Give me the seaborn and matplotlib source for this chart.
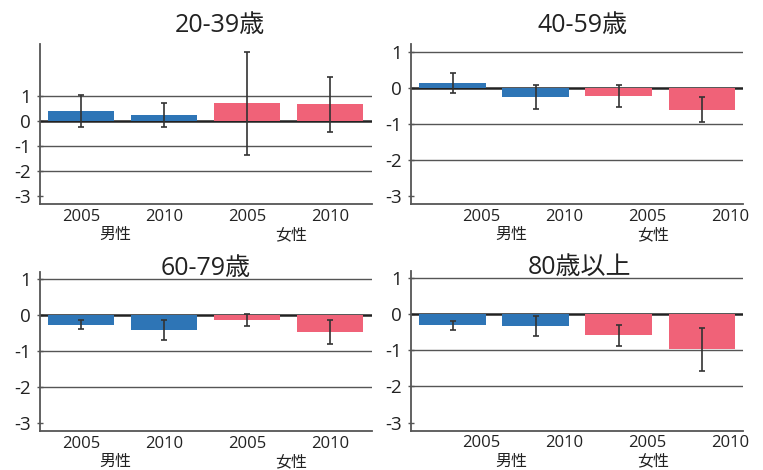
import numpy as np
import pandas as pd
import matplotlib
matplotlib.use("Agg")
import matplotlib.pyplot as plt
import matplotlib.transforms as mtransforms
import seaborn as sns

# Age groups (one panel each)
panels = ["20-39歳", "40-59歳", "60-79歳", "80歳以上"]
# Bars within a panel
sexes = ["男性", "男性", "女性", "女性"]
years = ["2005", "2010", "2005", "2010"]

# Bar heights and symmetric error half-widths per age group
means_20_39 = [0.39, 0.23, 0.70, 0.67]
errs_20_39 = [0.65, 0.49, 2.06, 1.10]
means_40_59 = [0.13, -0.25, -0.23, -0.61]
errs_40_59 = [0.28, 0.33, 0.31, 0.34]
means_60_79 = [-0.27, -0.42, -0.14, -0.47]
errs_60_79 = [0.125, 0.28, 0.157, 0.33]
means_80 = [-0.30, -0.32, -0.58, -0.97]
errs_80 = [0.125, 0.28, 0.285, 0.60]

yticks = [-3, -2, -1, 0, 1]

sns.set_theme(style="white")
plt.rcParams["font.family"] = ["Open Sans", "Noto Sans CJK JP", "DejaVu Sans"]
plt.rcParams["axes.unicode_minus"] = False

palette = {"男性": "#2e75b6", "女性": "#f06278"}

W, H = 763, 470
fig = plt.figure(figsize=(W / 100, H / 100), dpi=100)

def frac_box(x0, x1, y_top, y_bot):
    return [x0 / W, 1 - y_bot / H, (x1 - x0) / W, (y_bot - y_top) / H]

layout = [
    dict(box=frac_box(39.7, 371.7, 44.3, 204.0), ylim=(-3.32, 3.06), right=False,
         title_x=0.543, title_pad=8.9, groups=(0.227, 0.756)),
    dict(box=frac_box(411.0, 743.3, 44.3, 204.0), ylim=(-3.22, 1.2), right=True,
         title_x=0.517, title_pad=8.9, groups=(0.301, 0.729)),
    dict(box=frac_box(39.7, 371.7, 271.7, 431.0), ylim=(-3.22, 1.2), right=False,
         title_x=0.499, title_pad=-2.4, groups=(0.227, 0.756)),
    dict(box=frac_box(411.0, 743.3, 271.0, 430.5), ylim=(-3.22, 1.2), right=True,
         title_x=0.506, title_pad=-2.4, groups=(0.301, 0.729)),
]

series = [(means_20_39, errs_20_39), (means_40_59, errs_40_59),
          (means_60_79, errs_60_79), (means_80, errs_80)]

spine_color = "#555555"
text_color = "#222222"

for name, (means, errs), spec in zip(panels, series, layout):
    ax = fig.add_axes(spec["box"])
    df = pd.DataFrame({
        "key": [f"{s}{y}" for s, y in zip(sexes, years)],
        "sex": sexes,
        "value": means,
    })
    sns.barplot(data=df, x="key", y="value", hue="sex", palette=palette,
                dodge=False, legend=False, width=0.8, saturation=1,
                linewidth=0, edgecolor="none", ax=ax, zorder=2)
    ax.errorbar(np.arange(len(means)), means, yerr=errs, fmt="none",
                ecolor="#333333", elinewidth=1.2, capsize=2.4, capthick=1.2,
                zorder=3)

    for v in [1, -1, -2]:
        ax.axhline(v, color="#555555", lw=1.0, zorder=0.5)
    ax.axhline(0, color="#222222", lw=1.8, zorder=1)

    ax.set_xlim(-0.5, 3.5)
    ax.set_ylim(*spec["ylim"])
    ax.set_yticks(yticks)
    ax.set_yticklabels([str(t) for t in yticks], fontsize=13.5, color=text_color)
    ax.set_xticks(np.arange(len(years)))
    ax.set_xticklabels(years, fontsize=12, color=text_color)
    ax.set_xlabel("")
    ax.set_ylabel("")

    ax.tick_params(axis="y", direction="inout", length=5, width=1.0,
                   color=spine_color, pad=4, left=True)
    ax.tick_params(axis="x", length=0, pad=3.5)

    for side in ["top", "right"]:
        ax.spines[side].set_visible(False)
    for side in ["left", "bottom"]:
        ax.spines[side].set_color(spine_color)
        ax.spines[side].set_linewidth(1.3)

    if spec["right"]:
        shift = mtransforms.ScaledTranslation(0.285, 0, fig.dpi_scale_trans)
        for lbl in ax.get_xticklabels():
            lbl.set_transform(lbl.get_transform() + shift)

    for gx, gname in zip(spec["groups"], ["男性", "女性"]):
        tr = ax.transAxes + mtransforms.ScaledTranslation(0, -0.31, fig.dpi_scale_trans)
        ax.text(gx, 0, gname, transform=tr, ha="center", va="center",
                fontsize=11.5, color=text_color)

    ax.set_title(name, x=spec["title_x"], pad=spec["title_pad"],
                 fontsize=18, color=text_color)

fig.savefig("out.png", dpi=100)
